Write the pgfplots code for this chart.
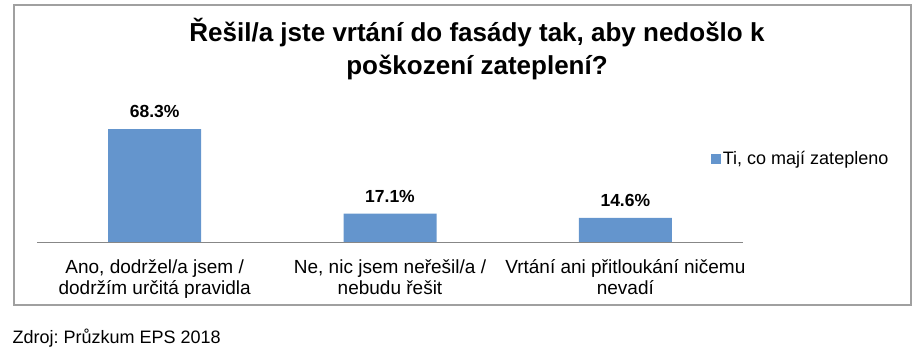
\documentclass[border=0pt]{standalone}
\usepackage{fontspec}
\setmainfont{Liberation Sans}
\usepackage{pgfplots}
\pgfplotsset{compat=1.18}
\definecolor{barblue}{HTML}{6495CD}
\definecolor{axgray}{HTML}{878787}
\definecolor{boxgray}{HTML}{A0A0A0}
\frenchspacing
\begin{document}
\begin{tikzpicture}[x=1pt,y=1pt]
\path[use as bounding box] (0pt,0pt) rectangle (916pt,-352pt);
\draw[boxgray,line width=1.5pt] (14pt,-5pt) rectangle (911pt,-305pt);
\node[align=center,font=\fontsize{26}{33}\selectfont\bfseries] at (477pt,-49pt)
  {Řešil/a jste vrtání do fasády tak, aby nedošlo k\\poškození zateplení?};
\node[anchor=west,font=\fontsize{18}{20}\selectfont] at (9pt,-338pt) {Zdroj: Průzkum EPS 2018};
\begin{axis}[
  at={(37pt,-242pt)}, anchor=south west,
  scale only axis, width=706pt, height=124pt,
  xmin=-0.5, xmax=2.5, ymin=0, ymax=75,
  axis y line=none, axis x line*=bottom,
  x axis line style={axgray, line width=0.8pt, -},
  xtick={0,1,2},
  xticklabels={{Ano, dodržel/a jsem /\\dodržím určitá pravidla},{Ne, nic jsem neřešil/a /\\nebudu řešit},{Vrtání ani přitloukání ničemu\\nevadí}},
  xticklabel style={align=center, font=\fontsize{19}{20.5}\selectfont, yshift=-10pt},
  major x tick style={draw=none},
  extra x ticks={-0.5,0.5,1.5,2.5},
  extra x tick labels={},
  extra x tick style={major tick length=5pt, tick align=outside, tick style={axgray,line width=0.8pt}},
  ybar, bar width=93pt,
  nodes near coords,
  point meta=explicit symbolic,
  nodes near coords style={font=\fontsize{17.5}{19}\selectfont\bfseries, yshift=8pt},
  legend style={at={(0.95,0.67)}, anchor=west, draw=none, fill=none, font=\fontsize{18}{20}\selectfont},
  legend image code/.code={\fill[barblue] (0pt,-5pt) rectangle (10pt,5pt);},
]
\addplot[fill=barblue, draw=none] table[meta=label] {
x y label
0 68.3 68.3\%
1 17.1 17.1\%
2 14.6 14.6\%
};
\addlegendentry{Ti, co mají zatepleno}
\end{axis}
\end{tikzpicture}
\end{document}
